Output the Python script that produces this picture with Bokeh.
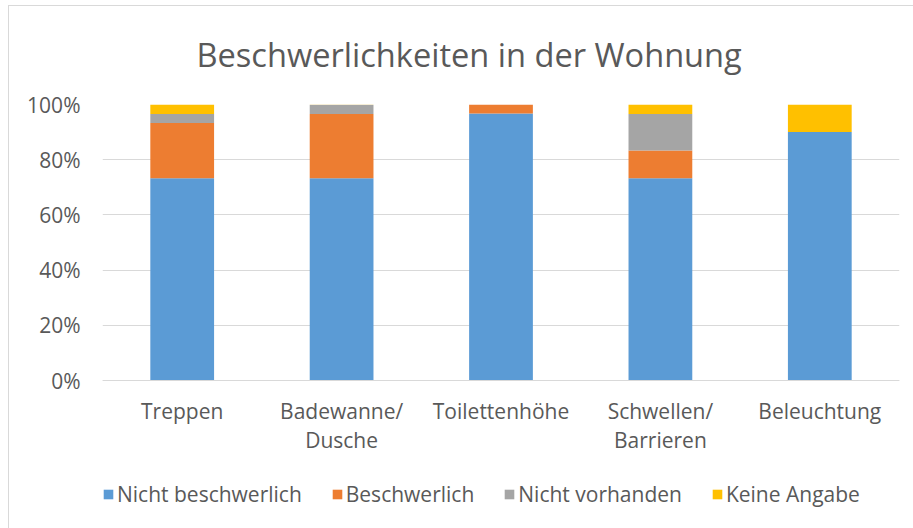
from bokeh.plotting import figure
from bokeh.models import ColumnDataSource, FactorRange, Legend, LegendItem, Title, FixedTicker
from bokeh.embed import file_html
from bokeh.resources import INLINE

categories = ["Treppen", "Badewanne/\nDusche", "Toilettenhöhe", "Schwellen/\nBarrieren", "Beleuchtung"]
series_names = ["Nicht beschwerlich", "Beschwerlich", "Nicht vorhanden", "Keine Angabe"]
nicht_beschwerlich = [73.3, 73.3, 96.7, 73.3, 90.0]
beschwerlich = [20.0, 23.3, 3.3, 10.0, 0.0]
nicht_vorhanden = [3.3, 3.3, 0.0, 13.3, 0.0]
keine_angabe = [3.4, 0.1, 0.0, 3.4, 10.0]
y_ticks = [0, 20, 40, 60, 80, 100]
y_tick_labels = ["0%", "20%", "40%", "60%", "80%", "100%"]
colors = ["#5B9BD5", "#ED7D31", "#A5A5A5", "#FFC000"]

FONT = "Open Sans"
TXT = "#595959"

keys = ["s0", "s1", "s2", "s3"]
source = ColumnDataSource(dict(cat=categories, s0=nicht_beschwerlich, s1=beschwerlich,
                               s2=nicht_vorhanden, s3=keine_angabe))

# frame extends below 0% so that the category labels and the legend sit inside it
p = figure(frame_width=797, frame_height=424, x_range=FactorRange(*categories, range_padding=0),
           y_range=(-53.62, 100), output_backend="svg", toolbar_location=None,
           min_border_left=102, min_border_right=14, min_border_top=104, min_border_bottom=0,
           title=None)
p.outline_line_color = None
p.border_fill_color = None
p.background_fill_color = "white"
p.styles = {
    "background": ("linear-gradient(#d9d9d9,#d9d9d9) 8px 5px / 1px 100% no-repeat, "
                   "linear-gradient(#d9d9d9,#d9d9d9) 8px 5px / 100% 1px no-repeat, white"),
}

renderers = p.vbar_stack(keys, x="cat", width=0.4, color=colors, source=source, line_color=None)

p.add_layout(Title(text="Beschwerlichkeiten in der Wohnung", align="left",
                   text_font=FONT, text_font_size="32.6px", text_font_style="normal",
                   text_color=TXT, standoff=56, offset=94), "above")

p.yaxis.ticker = FixedTicker(ticks=y_ticks)
p.yaxis.major_label_overrides = {t: l for t, l in zip(y_ticks, y_tick_labels)}
p.yaxis.axis_line_color = None
p.yaxis.major_tick_line_color = None
p.yaxis.minor_tick_line_color = None
p.yaxis.major_tick_out = 0
p.yaxis.major_tick_in = 0
p.yaxis.major_label_text_font = FONT
p.yaxis.major_label_text_font_size = "21px"
p.yaxis.major_label_text_color = TXT
p.yaxis.major_label_standoff = 22

p.xaxis.fixed_location = 0
p.xaxis.axis_line_color = "#d9d9d9"
p.xaxis.axis_line_width = 1
p.xaxis.major_tick_line_color = None
p.xaxis.minor_tick_line_color = None
p.xaxis.major_tick_out = 0
p.xaxis.major_tick_in = 0
p.xaxis.major_label_text_font = FONT
p.xaxis.major_label_text_font_size = "21px"
p.xaxis.major_label_text_color = TXT
p.xaxis.major_label_text_line_height = 1.05
p.xaxis.major_label_standoff = 16

p.xgrid.grid_line_color = None
p.ygrid.grid_line_color = "#d9d9d9"
p.ygrid.grid_line_width = 1
p.ygrid.ticker = FixedTicker(ticks=y_ticks)

legend = Legend(items=[LegendItem(label=n, renderers=[r]) for n, r in zip(series_names, renderers)],
                orientation="horizontal", location=(0, 20),
                glyph_width=12, glyph_height=12, label_standoff=3, spacing=29,
                label_text_font=FONT, label_text_font_size="21px", label_text_color=TXT,
                border_line_color=None, background_fill_alpha=0, padding=0, margin=0)
p.add_layout(legend)

open("out.html", "w").write(file_html(p, INLINE))
